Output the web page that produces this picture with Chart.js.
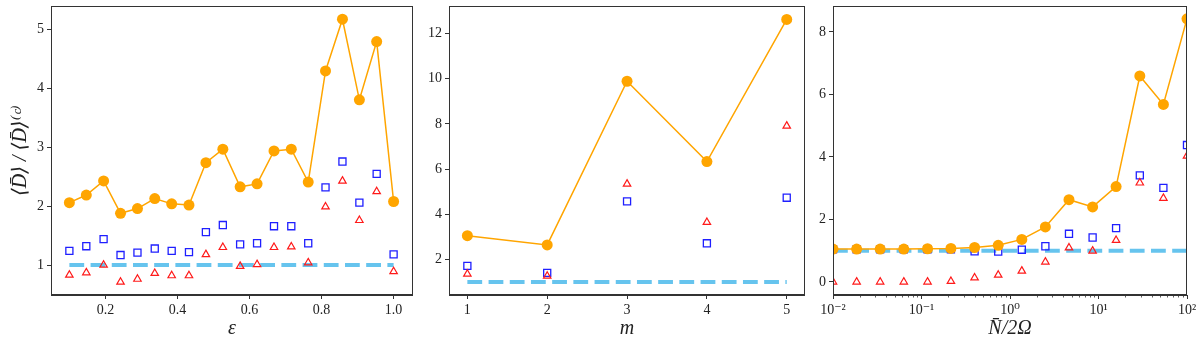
<!DOCTYPE html>
<html>
<head>
<meta charset="utf-8">
<script src="https://cdn.jsdelivr.net/npm/chart.js@4.4.1/dist/chart.umd.min.js"></script>
<style>
  body { margin: 0; background: #fff; width: 1200px; height: 344px; position: relative; overflow: hidden; }
  canvas { position: absolute; top: 0; }
</style>
</head>
<body>
<canvas id="c1" width="419" height="344" style="left:0px"></canvas>
<canvas id="c2" width="399" height="344" style="left:412px"></canvas>
<canvas id="c3" width="395" height="344" style="left:805px"></canvas>
<script>
// panel 1: ratio vs epsilon
var epsValues = [0.1, 0.147, 0.195, 0.242, 0.289, 0.337, 0.384, 0.432, 0.479, 0.526,
                 0.574, 0.621, 0.668, 0.716, 0.763, 0.811, 0.858, 0.905, 0.953, 1.0];
var epsOrange = [2.06, 2.19, 2.43, 1.88, 1.96, 2.13, 2.04, 2.02, 2.74, 2.97,
                 2.33, 2.38, 2.94, 2.97, 2.41, 4.30, 5.18, 3.81, 4.80, 2.08];
var epsBlue   = [1.24, 1.32, 1.44, 1.17, 1.21, 1.28, 1.24, 1.22, 1.56, 1.68,
                 1.35, 1.37, 1.66, 1.66, 1.37, 2.32, 2.76, 2.06, 2.55, 1.18];
var epsRed    = [0.83, 0.87, 1.00, 0.71, 0.76, 0.86, 0.82, 0.82, 1.18, 1.30,
                 0.98, 1.01, 1.30, 1.31, 1.04, 1.99, 2.43, 1.76, 2.25, 0.89];
var epsXTicks = [0.2, 0.4, 0.6, 0.8, 1.0];
var epsYTicks = [1, 2, 3, 4, 5];

// panel 2: ratio vs m
var mValues = [1, 2, 3, 4, 5];
var mOrange = [3.05, 2.64, 9.89, 6.33, 12.63];
var mBlue   = [1.71, 1.40, 4.57, 2.71, 4.73];
var mRed    = [1.35, 1.26, 5.34, 3.64, 7.91];
var mXTicks = [1, 2, 3, 4, 5];
var mYTicks = [2, 4, 6, 8, 10, 12];

// panel 3: ratio vs N/2Omega (log x)
var nValues = [0.01, 0.0185, 0.0341, 0.0631, 0.117, 0.215, 0.398, 0.736,
               1.36, 2.51, 4.64, 8.58, 15.8, 29.3, 54.1, 100];
var nOrange = [1.05, 1.05, 1.05, 1.05, 1.06, 1.07, 1.10, 1.17,
               1.36, 1.76, 2.63, 2.40, 3.05, 6.59, 5.68, 8.42];
var nBlue   = [1.04, 1.04, 1.04, 1.04, 1.04, 1.04, 0.98, 0.97,
               1.03, 1.14, 1.54, 1.42, 1.72, 3.41, 3.01, 4.38];
var nRed    = [0.00, 0.00, 0.00, 0.00, 0.00, 0.02, 0.13, 0.22,
               0.35, 0.64, 1.09, 0.99, 1.33, 3.17, 2.68, 4.03];
var nXTicks = [0.01, 0.1, 1, 10, 100];
var nXLabels = ['10\u207B\u00B2', '10\u207B\u00B9', '10\u2070', '10\u00B9', '10\u00B2'];
var nYTicks = [0, 2, 4, 6, 8];

var ORANGE = '#FFA500';
var BLUE = '#1f1fff';
var RED = '#ff1a1a';
var SKY = '#66C4EE';
var INK = '#333';
var FONT = "'Liberation Serif', 'DejaVu Serif', serif";

function makeSets(xs, orange, blue, red, dashXs) {
    return [{
        label: 'orange',
        data: xs.map(function (x, i) { return { x: x, y: orange[i] }; }),
        borderColor: ORANGE,
        backgroundColor: ORANGE,
        borderWidth: 1.5,
        pointRadius: 5.5,
        pointBorderWidth: 0,
        pointBackgroundColor: ORANGE,
        clip: 0,
        order: 0
    }, {
        label: 'blue',
        data: xs.map(function (x, i) { return { x: x, y: blue[i] }; }),
        showLine: false,
        pointStyle: 'rect',
        pointRadius: 5,
        pointBorderColor: BLUE,
        pointBackgroundColor: 'rgba(0,0,0,0)',
        pointBorderWidth: 1.3,
        clip: 0,
        order: 2
    }, {
        label: 'red',
        data: xs.map(function (x, i) { return { x: x, y: red[i] }; }),
        showLine: false,
        pointStyle: 'triangle',
        pointRadius: 4.3,
        pointBorderColor: RED,
        pointBackgroundColor: 'rgba(0,0,0,0)',
        pointBorderWidth: 1.2,
        clip: 0,
        order: 1
    }, {
        label: 'ref',
        data: dashXs.map(function (x) { return { x: x, y: 1 }; }),
        borderColor: SKY,
        borderWidth: 4,
        borderDash: [14.8, 6.4],
        pointRadius: 0,
        clip: 0,
        order: 3
    }];
}

function axis(type, min, max, tickVals, fmt, size, isX, title) {
    var a = {
        type: type,
        min: min,
        max: max,
        border: { display: true, color: INK, width: 1 },
        grid: { drawOnChartArea: false, drawTicks: true, tickLength: 4, tickColor: INK, tickWidth: 1 },
        ticks: {
            color: '#222',
            font: { family: FONT, size: 14 },
            padding: 3,
            maxRotation: 0,
            autoSkip: false,
            callback: fmt
        },
        afterBuildTicks: function (s) {
            s.ticks = tickVals.map(function (v) { return { value: v }; });
        },
        afterFit: function (s) {
            if (isX) {
                s.height = size;
                s.paddingLeft = 0;
                s.paddingRight = 0;
            } else {
                s.width = size;
                s.paddingTop = 0;
                s.paddingBottom = 0;
            }
        }
    };
    if (title) {
        a.title = {
            display: true,
            text: title,
            color: '#222',
            font: { family: FONT, size: 20, style: 'italic' },
            padding: isX ? { top: 0, bottom: 3 } : { top: 9, bottom: 0 }
        };
    }
    return a;
}

// full box around the plot area, like the matplotlib spines
var framePlugin = {
    id: 'frame',
    afterDraw: function (chart) {
        var a = chart.chartArea;
        var ctx = chart.ctx;
        ctx.save();
        ctx.strokeStyle = INK;
        ctx.lineWidth = 1;
        ctx.strokeRect(Math.round(a.left) + 0.5, Math.round(a.top) + 0.5,
                       Math.round(a.right - a.left) - 1, Math.round(a.bottom - a.top) - 1);
        ctx.restore();
    }
};

// minor ticks for the log axis
var minorTicks = {
    id: 'minorTicks',
    afterDraw: function (chart) {
        var x = chart.scales.x;
        var ctx = chart.ctx;
        var b = chart.chartArea.bottom;
        ctx.save();
        ctx.strokeStyle = INK;
        ctx.lineWidth = 0.8;
        for (var e = -2; e < 2; e++) {
            for (var k = 2; k <= 9; k++) {
                var px = Math.round(x.getPixelForValue(k * Math.pow(10, e))) + 0.5;
                ctx.beginPath();
                ctx.moveTo(px, b);
                ctx.lineTo(px, b + 2.5);
                ctx.stroke();
            }
        }
        ctx.restore();
    }
};

var common = {
    responsive: false,
    animation: false,
    events: [],
    plugins: { legend: { display: false }, tooltip: { enabled: false } },
    elements: { line: { tension: 0 } }
};

function opts(pad, scales) {
    return Object.assign({}, common, { layout: { padding: pad }, scales: scales });
}

new Chart(document.getElementById('c1').getContext('2d'), {
    type: 'line',
    data: { datasets: makeSets(epsValues, epsOrange, epsBlue, epsRed, [0.1, 1.0]) },
    options: opts({ top: 3, right: 2, left: 0, bottom: 0 }, {
        x: axis('linear', 0.049, 1.053, epsXTicks, function (v) { return v.toFixed(1); }, 49, true, '\u03B5'),
        y: axis('linear', 0.49, 5.40, epsYTicks, function (v) { return String(v); }, 51, false,
                '\u27E8D\u0304\u27E9 / \u27E8D\u0304\u27E9\u207D\u1D9C\u207E')
    }),
    plugins: [framePlugin]
});

new Chart(document.getElementById('c2').getContext('2d'), {
    type: 'line',
    data: { datasets: makeSets(mValues, mOrange, mBlue, mRed, [1, 5]) },
    options: opts({ top: 3, right: 2, left: 0, bottom: 0 }, {
        x: axis('linear', 0.77, 5.225, mXTicks, function (v) { return String(v); }, 49, true, 'm'),
        y: axis('linear', 0.42, 13.21, mYTicks, function (v) { return String(v); }, 37, false)
    }),
    plugins: [framePlugin]
});

new Chart(document.getElementById('c3').getContext('2d'), {
    type: 'line',
    data: { datasets: makeSets(nValues, nOrange, nBlue, nRed, [0.01, 100]) },
    options: opts({ top: 3, right: 13, left: 0, bottom: 0 }, {
        x: axis('logarithmic', 0.01, 100, nXTicks, function (v, i) { return nXLabels[i]; }, 49, true, 'N\u0304/2\u03A9'),
        y: axis('linear', -0.42, 8.82, nYTicks, function (v) { return String(v); }, 28, false)
    }),
    plugins: [framePlugin, minorTicks]
});
</script>
</body>
</html>
